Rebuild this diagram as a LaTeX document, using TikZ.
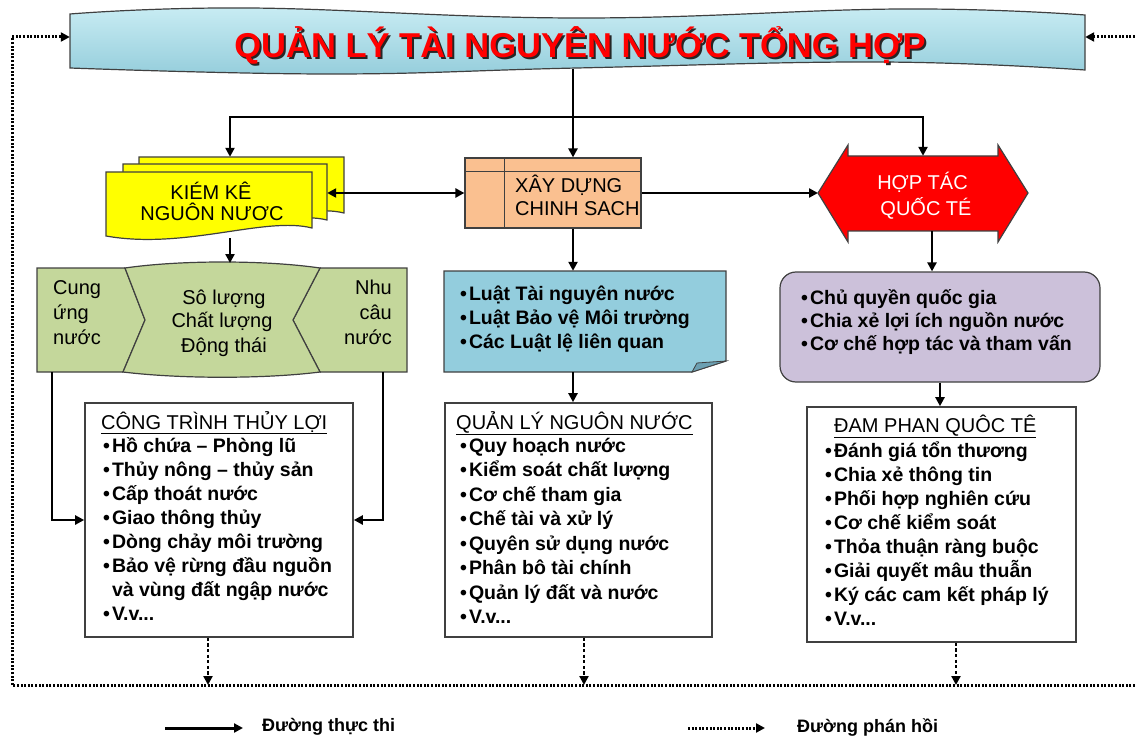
\documentclass[tikz,border=0pt]{standalone}
\usepackage{fontspec}
\setmainfont{Liberation Sans}
\usetikzlibrary{arrows.meta}
\definecolor{kkyellow}{RGB}{255,255,0}
\definecolor{xdpeach}{RGB}{250,192,144}
\definecolor{htred}{RGB}{255,0,0}
\definecolor{grgreen}{RGB}{196,215,155}
\definecolor{bnblue}{RGB}{147,205,221}
\definecolor{bnfold}{RGB}{108,160,178}
\definecolor{pupurple}{RGB}{204,193,218}
\definecolor{edgegray}{RGB}{64,64,64}
\definecolor{titletop}{RGB}{200,236,243}
\definecolor{titlebot}{RGB}{150,206,220}
\newcommand\setfs[1]{\fontsize{#1pt}{#1pt}\selectfont}
\newcommand\bul{\textbullet\hspace{2pt}}
\begin{document}
\begin{tikzpicture}[x=1pt,y=-1pt,
  area/.style={inner sep=0pt, draw=none},
  shapeedge/.style={draw=edgegray, line width=1.2pt},
  conn/.style={line width=2.4pt, -{Triangle[length=9pt,width=9pt]}},
  busline/.style={line width=2.4pt, line cap=rect},
  biconn/.style={line width=2.4pt, {Triangle[length=9pt,width=9pt]}-{Triangle[length=9pt,width=9pt]}},
  fb/.style={line width=3pt, dash pattern=on 2pt off 1.6pt},
  fbarrow/.style={fb, -{Triangle[length=9pt,width=9pt]}},
  drop/.style={line width=2.6pt, dash pattern=on 3.2pt off 2.4pt, -{Triangle[length=9pt,width=9pt]}},
  listbox/.style={draw=edgegray, line width=1.6pt, fill=white, inner sep=0pt},
  boxtitle/.style={anchor=base west, inner sep=0pt, font=\setfs{20}},
  body/.style={anchor=base west, inner sep=0pt, font=\setfs{19.5}\bfseries},
  toptext/.style={anchor=base, inner sep=0pt, font=\setfs{20}},
]
\useasboundingbox (0,0) rectangle (1135,738);

% ---------- title banner ----------
\path[shapeedge, top color=titletop, bottom color=titlebot]
  plot[smooth, tension=0.7] coordinates {(70,14) (250,8) (577,18) (900,9) (1085,15)}
  -- plot[smooth, tension=0.7] coordinates {(1085,70) (880,62) (577,68) (330,74) (70,68)} -- cycle;
\node[area, minimum width=1015pt, minimum height=56pt] (title) at (577.5,41) {};
\node[anchor=base, inner sep=0pt, text=black!85, font=\setfs{34.5}\bfseries] (titleshadow) at (582,59.5) {QUẢN LÝ TÀI NGUYÊN NƯỚC TỔNG HỢP};
\node[anchor=base, inner sep=0pt, text=htred, font=\setfs{34.5}\bfseries] (titletext) at (580,57.5) {QUẢN LÝ TÀI NGUYÊN NƯỚC TỔNG HỢP};

% ---------- kiem ke (multi document) ----------
\path[shapeedge, fill=kkyellow] (139,157) -- (344,157) -- (344,213) .. controls (300,202) and (220,236) .. (139,222) -- cycle;
\path[shapeedge, fill=kkyellow] (123,164) -- (327,164) -- (327,220) .. controls (283,209) and (204,243) .. (123,229) -- cycle;
\path[shapeedge, fill=kkyellow] (106,172) -- (312,172) -- (312,228) .. controls (265,216) and (185,250) .. (106,236) -- cycle;
\node[area, minimum width=205pt, minimum height=56pt] (kk3) at (241.5,185) {};
\node[area, minimum width=204pt, minimum height=56pt] (kk2) at (225,192) {};
\node[area, minimum width=206pt, minimum height=66pt] (kk) at (209,205) {};
\node[toptext] (kkt1) at (211,200) {KIÉM KÊ};
\node[toptext] (kkt2) at (212,221) {NGUÔN NƯƠC};

% ---------- xay dung (internal storage) ----------
\node[shapeedge, fill=xdpeach, minimum width=176pt, minimum height=70pt, inner sep=0pt] (xd) at (553,193) {};
\draw[edgegray, line width=1.2pt] ([xshift=40pt]xd.north west) -- ([xshift=40pt]xd.south west);
\draw[edgegray, line width=1.2pt] ([yshift=-14pt]xd.north west) -- ([yshift=-14pt]xd.north east);
\node[toptext, anchor=base west] (xdt1) at (515,193) {XÂY DỰNG};
\node[toptext, anchor=base west] (xdt2) at (515,215) {CHINH SACH};

% ---------- hop tac (left-right arrow) ----------
\path[shapeedge, fill=htred] (818,193) -- (848,145) -- (848,156) -- (998,156) -- (998,145) -- (1028,193)
  -- (998,242) -- (998,231) -- (848,231) -- (848,242) -- cycle;
\node[area, minimum width=150pt, minimum height=75pt] (ht) at (923,193.5) {};
\coordinate (httip) at (818,193);
\node[toptext, text=white] (htt1) at (922.5,190) {HỢP TÁC};
\node[toptext, text=white] (htt2) at (926,215) {QUỐC TÉ};

% ---------- green block ----------
\path[shapeedge, fill=grgreen] (37,268) -- (125,268) -- (145,320) -- (123,372) -- (37,372) -- cycle;
\path[shapeedge, fill=grgreen] (320,268) -- (407,268) -- (407,372) -- (320,372) -- (293,320) -- cycle;
\path[shapeedge, fill=grgreen] (125,268) .. controls (180,260) and (265,260) .. (320,268) -- (293,320) -- (320,372)
  .. controls (265,379) and (180,379) .. (123,372) -- (145,320) -- cycle;
\node[area, minimum width=370pt, minimum height=104pt] (gr) at (222,320) {};
\coordinate (gtop) at (230,263);
\coordinate (glb) at (52,372);
\coordinate (grb) at (383,372);
\node[toptext, anchor=base west] (grl1) at (53,294) {Cung};
\node[toptext, anchor=base west] (grl2) at (53,319) {ứng};
\node[toptext, anchor=base west] (grl3) at (53,344) {nước};
\node[toptext] (grm1) at (224,304) {Sô lượng};
\node[toptext] (grm2) at (222,327) {Chất lượng};
\node[toptext] (grm3) at (224,352) {Động thái};
\node[toptext, anchor=base east] (grr1) at (392,294) {Nhu};
\node[toptext, anchor=base east] (grr2) at (392,319) {câu};
\node[toptext, anchor=base east] (grr3) at (392,344) {nước};

% ---------- blue note ----------
\path[shapeedge, fill=bnblue] (444,271) -- (726,271) -- (726,361) -- (692,372) -- (444,372) -- cycle;
\path[shapeedge, fill=bnfold, line width=0.8pt] (692,372) -- (697,363) -- (726,361) -- cycle;
\node[area, minimum width=282pt, minimum height=101pt] (bn) at (585,321.5) {};
\node[body] (bn1) at (460,300) {\bul Luật Tài nguyên nước};
\node[body] (bn2) at (460,324) {\bul Luật Bảo vệ Môi trường};
\node[body] (bn3) at (460,348) {\bul Các Luật lệ liên quan};

% ---------- purple ----------
\node[shapeedge, fill=pupurple, rounded corners=16pt, minimum width=320pt, minimum height=110pt, inner sep=0pt] (pu) at (940,327) {};
\node[body] (pu1) at (801,304) {\bul Chủ quyền quốc gia};
\node[body] (pu2) at (801,327) {\bul Chia xẻ lợi ích nguồn nước};
\node[body] (pu3) at (801,350) {\bul Cơ chế hợp tác và tham vấn};

% ---------- lower boxes ----------
\node[listbox, minimum width=268pt, minimum height=234pt] (lb) at (219,520) {};
\node[listbox, minimum width=267pt, minimum height=234pt] (mb) at (578.5,520) {};
\node[listbox, minimum width=269pt, minimum height=235pt] (rb) at (941.5,524.5) {};

\node[boxtitle] (lbt) at (101,429) {\underline{CÔNG TRÌNH THỦY LỢI}};
\node[body] (lb1) at (103,452) {\bul Hồ chứa – Phòng lũ};
\node[body] (lb2) at (103,476) {\bul Thủy nông – thủy sản};
\node[body] (lb3) at (103,500) {\bul Cấp thoát nước};
\node[body] (lb4) at (103,524) {\bul Giao thông thủy};
\node[body] (lb5) at (103,548) {\bul Dòng chảy môi trường};
\node[body] (lb6) at (103,572) {\bul Bảo vệ rừng đầu nguồn};
\node[body] (lb7) at (103,596) {\phantom{\bul}và vùng đất ngập nước};
\node[body] (lb8) at (103,620) {\bul V.v...};

\node[boxtitle] (mbt) at (456,429) {\underline{QUẢN LÝ NGUÔN NƯỚC}};
\node[body] (mb1) at (460,452) {\bul Quy hoạch nước};
\node[body] (mb2) at (460,476.5) {\bul Kiểm soát chất lượng};
\node[body] (mb3) at (460,501) {\bul Cơ chế tham gia};
\node[body] (mb4) at (460,525.5) {\bul Chế tài và xử lý};
\node[body] (mb5) at (460,550) {\bul Quyên sử dụng nước};
\node[body] (mb6) at (460,574.5) {\bul Phân bô tài chính};
\node[body] (mb7) at (460,599) {\bul Quản lý đất và nước};
\node[body] (mb8) at (460,623.5) {\bul V.v...};

\node[boxtitle] (rbt) at (834,432) {\underline{ĐAM PHAN QUÔC TÊ}};
\node[body] (rb1) at (825,457) {\bul Đánh giá tổn thương};
\node[body] (rb2) at (825,481) {\bul Chia xẻ thông tin};
\node[body] (rb3) at (825,505) {\bul Phối hợp nghiên cứu};
\node[body] (rb4) at (825,529) {\bul Cơ chế kiểm soát};
\node[body] (rb5) at (825,553) {\bul Thỏa thuận ràng buộc};
\node[body] (rb6) at (825,577) {\bul Giải quyết mâu thuẫn};
\node[body] (rb7) at (825,601) {\bul Ký các cam kết pháp lý};
\node[body] (rb8) at (825,625) {\bul V.v...};

% ---------- solid connectors ----------
\coordinate (busL) at (230,117);
\coordinate (busM) at (573,117);
\coordinate (busR) at (923,117);
\draw[busline] (busL) -- (busR);
\draw[conn] (busM |- title.south) -- (busM |- xd.north);
\draw[conn] (busL) -- (busL |- kk3.north);
\draw[conn] (busR) -- (ht.north);
\draw[biconn] (kk2.east |- xd.west) -- (xd.west);
\draw[conn] (xd.east) -- (httip);
\draw[conn] (gtop |- kk.south) -- (gtop);
\draw[conn] (busM |- xd.south) -- (busM |- bn.north);
\draw[conn] (busM |- bn.south) -- (busM |- mb.north);
\draw[conn] ([xshift=9pt]ht.south) -- ([xshift=9pt]ht.south |- pu.north);
\draw[conn] (pu.south) -- (pu.south |- rb.north);
\draw[conn] (glb) -- (glb |- lb.west) -- (lb.west);
\draw[conn] (grb) -- (grb |- lb.east) -- (lb.east);

% ---------- feedback (dotted) ----------
\coordinate (fbL) at (12,685);
\coordinate (fbR) at (1135,685);
\coordinate (fbTL) at (12,37);
\coordinate (fbTR) at (1135,37);
\draw[fbarrow] (fbR) -- (fbL) -- (fbTL) -- (fbTL -| title.west);
\draw[fbarrow] (fbTR) -- (fbTR -| title.east);
\draw[drop] ([xshift=-11pt]lb.south) -- ([xshift=-11pt]lb.south |- fbL);
\draw[drop] ([xshift=5.5pt]mb.south) -- ([xshift=5.5pt]mb.south |- fbL);
\draw[drop] ([xshift=14.5pt]rb.south) -- ([xshift=14.5pt]rb.south |- fbL);

% ---------- legend ----------
\coordinate (legAa) at (165,728);
\coordinate (legAb) at (243,728);
\draw[conn, line width=3pt] (legAa) -- (legAb);
\node[anchor=west, inner sep=0pt, font=\setfs{18}\bfseries] (legA) at (262,727) {Đường thực thi};
\coordinate (legBa) at (688,728);
\coordinate (legBb) at (765,728);
\draw[fbarrow] (legBa) -- (legBb);
\node[anchor=west, inner sep=0pt, font=\setfs{18}\bfseries] (legB) at (797,727) {Đường phán hồi};
\end{tikzpicture}
\end{document}
